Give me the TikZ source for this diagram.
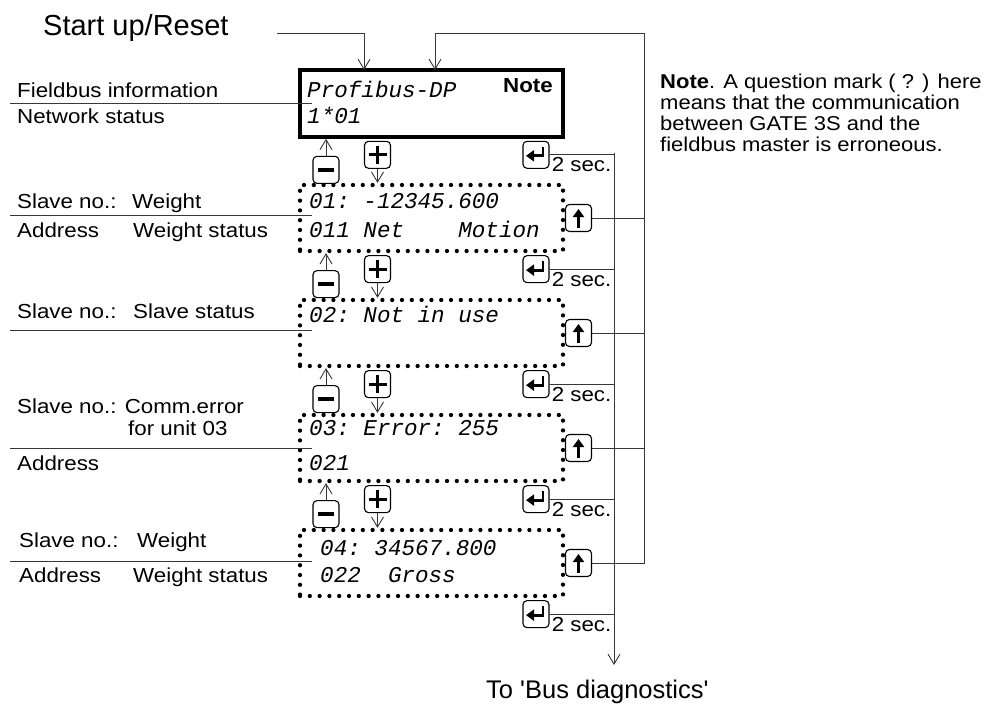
\documentclass[tikz,border=0pt]{standalone}
\usepackage{fontspec}
\setmainfont{Liberation Sans}
\newfontfamily\lblfont{Liberation Sans}[FakeStretch=1.1]
\newfontfamily\lcdfont{Liberation Mono}
\usetikzlibrary{arrows.meta, positioning, calc}
\definecolor{wire}{RGB}{55,55,55}

\tikzset{
  lbl/.style={font=\lblfont\fontsize{20.3}{20.3}\selectfont, inner sep=0pt, anchor=base west},
  lcd/.style={font=\lcdfont\itshape\fontsize{22.6}{24}\selectfont, inner sep=0pt, anchor=base west},
  lcdframe/.style={draw, line width=3.6pt, minimum width=263pt, minimum height=67pt, inner sep=0pt},
  lcddots/.style={draw, line width=4.3pt, dash pattern=on 0pt off 9.8pt, line cap=round,
    minimum width=263pt, minimum height=66pt, inner sep=0pt},
  key/.style={draw, rounded corners=4pt, line width=1.1pt, minimum width=26pt, minimum height=27pt,
    inner sep=0pt, fill=white},
  keyminus/.style={key, path picture={
    \draw[line width=3.4pt, sharp corners] ([xshift=-8pt]path picture bounding box.center)
      -- ([xshift=8pt]path picture bounding box.center);}},
  keyplus/.style={key, path picture={
    \draw[line width=3.2pt, sharp corners] ([xshift=-9pt]path picture bounding box.center)
      -- ([xshift=9pt]path picture bounding box.center)
      ([yshift=-9pt]path picture bounding box.center)
      -- ([yshift=9pt]path picture bounding box.center);}},
  keyup/.style={key, path picture={
    \draw[line width=2.8pt, sharp corners, -{Triangle[length=8pt,width=11pt]}]
      ([yshift=-10pt]path picture bounding box.center)
      -- ([yshift=9pt]path picture bounding box.center);}},
  keyenter/.style={key, path picture={
    \draw[line width=2.8pt, sharp corners, -{Triangle[length=8pt,width=11pt]}]
      ([xshift=7pt,yshift=8pt]path picture bounding box.center)
      -- ([xshift=7pt,yshift=-1pt]path picture bounding box.center)
      -- ([xshift=-10pt,yshift=-1pt]path picture bounding box.center);}},
  wire/.style={draw=wire, line width=0.9pt},
  flow/.style={wire, -{Straight Barb[length=10pt,width=12pt]}},
  sep/.style={draw=wire, line width=1pt}
}

\begin{document}
\begin{tikzpicture}[x=1pt, y=-1pt]
  \useasboundingbox (0,0) rectangle (991,704);
  \coordinate (rtop) at (644,33);
  \coordinate (btop) at (614,153);
  \coordinate (bend) at (614,665);
  \coordinate (sfrom) at (277,33);
  \coordinate (in1) at (364,70);
  \coordinate (in2) at (435,70);

  % display windows and up keys
  \node[lcdframe] (d0) at (431.5,103.5) {};
  \foreach \i/\y in {1/218,2/333,3/448,4/563} {
    \node[lcddots] (d\i) at (431.5,\y) {};
    \node[keyup] (u\i) at (578.5,\y) {};
    \draw[wire] (u\i.east) -- (u\i.east -| rtop);
  }

  % minus / plus keys between the windows
  \foreach \i/\j in {0/1,1/2,2/3,3/4} {
    \node[keyminus] (m\i) at ($(d\i.south)+(-105.5,31)$) {};
    \node[keyplus] (p\i) at ($(d\i.south)+(-54,16)$) {};
    \draw[flow] (m\i) -- (m\i |- d\i.south);
    \draw[flow] (p\i) -- (p\i |- d\j.north);
  }

  % enter keys, 2 sec.
  \foreach \i in {0,...,4} {
    \node[keyenter] (e\i) at ($(d\i.south)+(104.5,16)$) {};
    \draw[wire] (e\i) -- (e\i -| btop);
    \node[lbl] (sec\i) at ($(e\i.east)+(2,17)$) {2 sec.};
  }

  % rails
  \draw[flow] (sfrom) -| (in1);
  \draw[flow] (u4.east) -| (rtop) -| (in2);
  \draw[flow] (btop) -- (bend);

  % texts in the windows
  \node[lcd] (t0a) at (307,97) {Profibus-DP};
  \node[lcd] (t0b) at (307,123) {1*01};
  \node[lbl, font=\lblfont\bfseries\fontsize{20.3}{20.3}\selectfont] (nt) at (503,92) {Note};
  \node[lcd] (t1a) at (309,208) {01:~-12345.600};
  \node[lcd] (t1b) at (309,237) {011~Net~~~~Motion};
  \node[lcd] (t2a) at (309,322) {02:~Not~in~use};
  \node[lcd] (t3a) at (309,435) {03:~Error:~255};
  \node[lcd] (t3b) at (309,470) {021};
  \node[lcd] (t4a) at (320,555) {04:~34567.800};
  \node[lcd] (t4b) at (320,582) {022~~Gross};

  % labels on the left
  \node[lbl] (l0a) at (17,97) {Fieldbus information};
  \node[lbl] (l0b) at (17,123) {Network status};
  \draw[sep] (10,103) -- (312,103);
  \node[lbl] (l1a) at (17,208) {Slave no.:};
  \node[lbl] (l1b) at (132,208) {Weight};
  \node[lbl] (l1c) at (17,237) {Address};
  \node[lbl] (l1d) at (133,237) {Weight status};
  \draw[sep] (10,215) -- (312,215);
  \node[lbl] (l2a) at (17,318) {Slave no.:};
  \node[lbl] (l2b) at (133,318) {Slave status};
  \draw[sep] (10,330) -- (312,330);
  \node[lbl] (l3a) at (17,413) {Slave no.: Comm.error};
  \node[lbl] (l3b) at (128,435) {for unit 03};
  \node[lbl] (l3c) at (17,470) {Address};
  \draw[sep] (10,448) -- (312,448);
  \node[lbl] (l4a) at (19,547) {Slave no.:};
  \node[lbl] (l4b) at (137,547) {Weight};
  \node[lbl] (l4c) at (19,582) {Address};
  \node[lbl] (l4d) at (133,582) {Weight status};
  \draw[sep] (10,561) -- (312,561);

  % headings and note
  \node[font=\fontsize{29}{32}\selectfont, inner sep=0pt, anchor=base west] (start) at (43,35) {Start up/Reset};
  \node[font=\fontsize{25.5}{28}\selectfont, inner sep=0pt, anchor=base west] (bus) at (486,698)
    {To \textquotesingle Bus diagnostics\textquotesingle};
  \node[lbl, font=\lblfont\fontsize{20}{21}\selectfont, anchor=north west, align=left] (note) at (660,73.5)
    {\textbf{Note}. A question mark ( ? ) here\\means that the communication\\between GATE 3S and the\\fieldbus master is erroneous.};
\end{tikzpicture}
\end{document}
